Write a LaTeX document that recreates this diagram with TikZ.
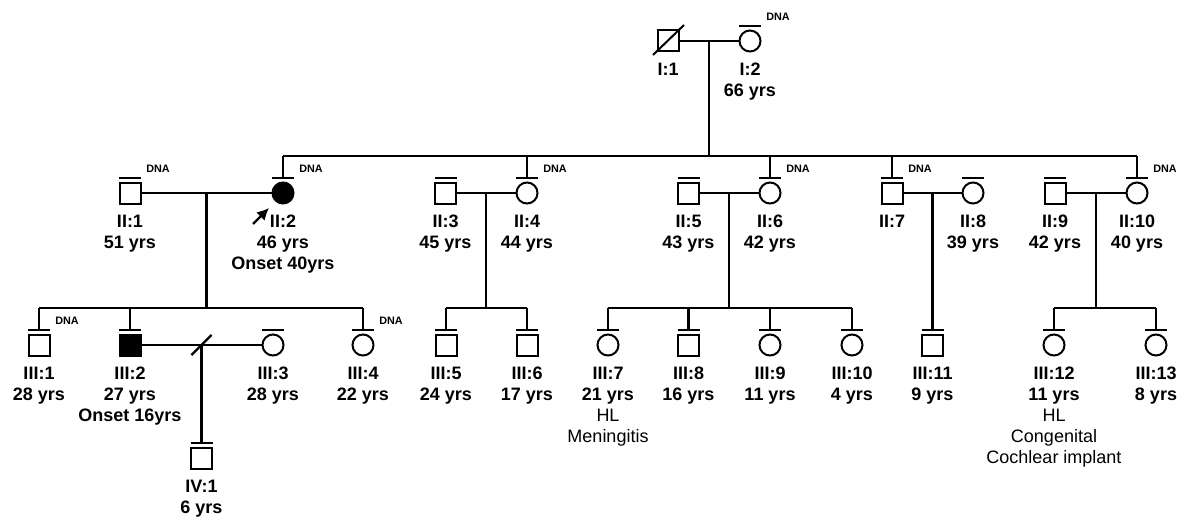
\documentclass[tikz,border=0pt]{standalone}
\usepackage{fontspec}
\setmainfont{Liberation Sans}
\usetikzlibrary{positioning,arrows.meta}
\tikzset{
  male/.style={rectangle, draw=black, line width=1pt, minimum size=10.5pt, inner sep=0pt, outer sep=0pt},
  female/.style={circle, draw=black, line width=1pt, minimum size=10.5pt, inner sep=0pt, outer sep=0pt},
  affected/.style={fill=black},
  lab/.style={align=center, inner sep=0pt, font=\fontsize{9}{10.5}\selectfont\bfseries, below=5.75pt of #1},
  dna/.style={inner sep=0pt, font=\fontsize{5.4}{6}\selectfont\bfseries},
  ln/.style={line width=1.1pt},
}
\newcommand\tbar[1]{\draw[line width=1pt] ([shift={(-11,-15)}]#1.center) -- ([shift={(11,-15)}]#1.center);}
\begin{document}
\begin{tikzpicture}[x=0.5pt, y=-0.5pt]
\useasboundingbox (0,0) rectangle (1188,519);

\node (p11) [male] at (668,41) {};
\node (p12) [female] at (750,41) {};

\node (p21) [male] at (130,193) {};
\node (p22) [female, affected] at (283,193) {};
\node (p23) [male] at (445.5,193) {};
\node (p24) [female] at (527,193) {};
\node (p25) [male] at (688.5,193) {};
\node (p26) [female] at (770,193) {};
\node (p27) [male] at (892,193) {};
\node (p28) [female] at (973,193) {};
\node (p29) [male] at (1055,193) {};
\node (p210) [female] at (1137,193) {};

\node (p31) [male] at (39,345) {};
\node (p32) [male, affected] at (130,345) {};
\node (p33) [female] at (273,345) {};
\node (p34) [female] at (363,345) {};
\node (p35) [male] at (446,345) {};
\node (p36) [male] at (527,345) {};
\node (p37) [female] at (608,345) {};
\node (p38) [male] at (688.5,345) {};
\node (p39) [female] at (770,345) {};
\node (p310) [female] at (852,345) {};
\node (p311) [male] at (932.5,345) {};
\node (p312) [female] at (1054,345) {};
\node (p313) [female] at (1156,345) {};

\node (p41) [male] at (201.5,458) {};

\node (t11) [lab=p11] {I:1};
\node (t12) [lab=p12] {I:2\\66 yrs};
\node (t21) [lab=p21] {II:1\\51 yrs};
\node (t22) [lab=p22] {II:2\\46 yrs\\Onset 40yrs};
\node (t23) [lab=p23] {II:3\\45 yrs};
\node (t24) [lab=p24] {II:4\\44 yrs};
\node (t25) [lab=p25] {II:5\\43 yrs};
\node (t26) [lab=p26] {II:6\\42 yrs};
\node (t27) [lab=p27] {II:7};
\node (t28) [lab=p28] {II:8\\39 yrs};
\node (t29) [lab=p29] {II:9\\42 yrs};
\node (t210) [lab=p210] {II:10\\40 yrs};
\node (t31) [lab=p31] {III:1\\28 yrs};
\node (t32) [lab=p32] {III:2\\27 yrs\\Onset 16yrs};
\node (t33) [lab=p33] {III:3\\28 yrs};
\node (t34) [lab=p34] {III:4\\22 yrs};
\node (t35) [lab=p35] {III:5\\24 yrs};
\node (t36) [lab=p36] {III:6\\17 yrs};
\node (t37) [lab=p37] {III:7\\21 yrs\\\mdseries HL\\\mdseries Meningitis};
\node (t38) [lab=p38] {III:8\\16 yrs};
\node (t39) [lab=p39] {III:9\\11 yrs};
\node (t310) [lab=p310] {III:10\\4 yrs};
\node (t311) [lab=p311] {III:11\\9 yrs};
\node (t312) [lab=p312] {III:12\\11 yrs\\\mdseries HL\\\mdseries Congenital\\\mdseries Cochlear implant};
\node (t313) [lab=p313] {III:13\\8 yrs};
\node (t41) [lab=p41] {IV:1\\6 yrs};

\foreach \p in {p12,p21,p22,p24,p26,p27,p210,p31,p34}
  \node [dna] at ([shift={(28,-24)}]\p.center) {DNA};

\foreach \p in {p12,p21,p22,p23,p24,p25,p26,p27,p28,p29,p210,p31,p32,p33,p34,p35,p36,p37,p38,p39,p310,p311,p312,p313,p41}
  {\tbar{\p}}

\draw[line width=1pt] ([shift={(-15,14)}]p11.center) -- ([shift={(16,-16)}]p11.center);

\coordinate (s2) at (709,156);
\coordinate (sA) at (206.5,308);
\coordinate (sB) at (486,308);
\coordinate (sC) at (729,308);
\coordinate (sE) at (1096,308);
\coordinate (m3) at (201.5,345);

\draw[ln] (p11) -- (p12);
\draw[ln] (s2) -- (s2 |- p11);
\draw[ln] (p22 |- s2) -- (p210 |- s2);
\foreach \c in {p22,p24,p26,p27,p210}
  \draw[ln] (\c |- s2) -- ([yshift=7.5pt]\c.center);

\draw[ln] (p21) -- (p22);
\draw[ln] (p23) -- (p24);
\draw[ln] (p25) -- (p26);
\draw[ln] (p27) -- (p28);
\draw[ln] (p29) -- (p210);
\draw[ln] (sA) -- (sA |- p21);
\draw[ln] (sB) -- (sB |- p23);
\draw[ln] (sC) -- (sC |- p25);
\draw[ln] (sE) -- (sE |- p29);
\draw[ln] (p311 |- p27) -- ([yshift=7.5pt]p311.center);

\draw[ln] (p31 |- sA) -- (p34 |- sA);
\draw[ln] (p35 |- sB) -- (p36 |- sB);
\draw[ln] (p37 |- sC) -- (p310 |- sC);
\draw[ln] (p312 |- sE) -- (p313 |- sE);
\foreach \c/\s in {p31/sA,p32/sA,p34/sA,p35/sB,p36/sB,p37/sC,p38/sC,p39/sC,p310/sC,p312/sE,p313/sE}
  \draw[ln] (\c |- \s) -- ([yshift=7.5pt]\c.center);

\draw[ln] (p32) -- (p33);
\draw[ln] (m3) -- ([yshift=7.5pt]p41.center);
\draw[ln] ([shift={(-10,10)}]m3) -- ([shift={(10,-10)}]m3);

\coordinate (pa) at (253,224);
\coordinate (pb) at (269,208);
\draw[ln, -{Latex[length=6pt,width=6pt]}] (pa) -- (pb);

\end{tikzpicture}
\end{document}
